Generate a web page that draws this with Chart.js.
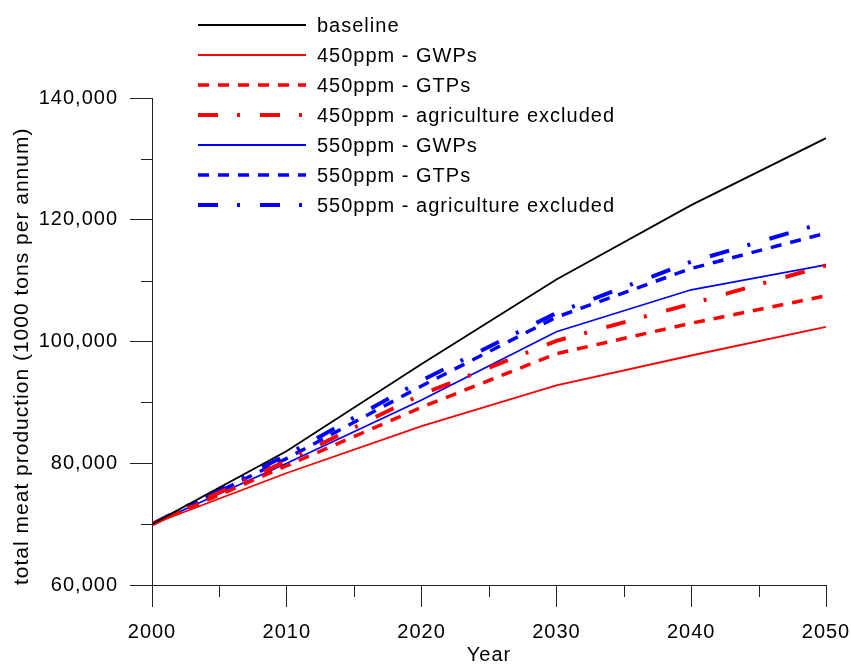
<!DOCTYPE html>
<html>
<head>
<meta charset="utf-8">
<script src="https://cdn.jsdelivr.net/npm/chart.js@4/dist/chart.umd.min.js"></script>
<style>
  html, body { margin: 0; padding: 0; background: #fff; }
  #wrap { width: 851px; height: 664px; }
</style>
</head>
<body>
<div id="wrap"><canvas id="meatChart"></canvas></div>
<script>
// data
const years = [2000, 2010, 2020, 2030, 2040, 2050];
const baseline  = [70000, 82000, 96300, 110200, 122400, 133400];
const ppm450Gwp = [70000, 78400, 86100, 92800, 97700, 102400];
const ppm450Gtp = [70000, 79600, 89200, 98000, 103000, 107500];
const ppm450Agr = [70000, 80400, 91300, 100100, 106200, 112500];
const ppm550Gwp = [70000, 80000, 90400, 101600, 108500, 112600];
const ppm550Gtp = [70000, 80800, 92700, 104000, 112000, 117800];
const ppm550Agr = [70000, 81400, 93600, 104700, 113100, 119600];

const seriesNames = [
  'baseline',
  '450ppm - GWPs',
  '450ppm - GTPs',
  '450ppm - agriculture excluded',
  '550ppm - GWPs',
  '550ppm - GTPs',
  '550ppm - agriculture excluded'
];

const FONT = '"Liberation Sans", Arial, sans-serif';
const AXIS = '#222';
const DASH = [11, 9];
const DASHDOT = [20, 19, 3, 20];

const toPoints = vals => years.map((yr, i) => ({ x: yr, y: vals[i] }));

function line(label, vals, color, width, dash) {
  return {
    label,
    data: toPoints(vals),
    borderColor: color,
    borderWidth: width,
    borderDash: dash,
    borderCapStyle: 'butt',
    pointRadius: 0,
    tension: 0,
    fill: false
  };
}

// canvas state gets reset on resize, so set the spacing again before layout and draw
const spacing = {
  id: 'spacing',
  beforeLayout(chart) { chart.ctx.letterSpacing = '1px'; },
  beforeDraw(chart) { chart.ctx.letterSpacing = '1px'; }
};

// short minor ticks (Chart.js only does one tick length per axis)
const minorTicks = {
  id: 'minorTicks',
  afterDraw(chart) {
    const { ctx, chartArea, scales: { x, y } } = chart;
    ctx.save();
    ctx.strokeStyle = AXIS;
    ctx.lineWidth = 1;
    ctx.beginPath();
    x.ticks.forEach(t => {
      if (t.value % 10 !== 0) {
        const px = Math.round(x.getPixelForValue(t.value)) + 0.5;
        ctx.moveTo(px, chartArea.bottom);
        ctx.lineTo(px, chartArea.bottom + 12);
      }
    });
    y.ticks.forEach(t => {
      if (t.value % 20000 !== 0) {
        const py = Math.round(y.getPixelForValue(t.value)) + 0.5;
        ctx.moveTo(chartArea.left - 11, py);
        ctx.lineTo(chartArea.left, py);
      }
    });
    ctx.stroke();
    ctx.restore();
  }
};

// legend block drawn top left, overlapping the plot like the original
const sideLegend = {
  id: 'sideLegend',
  afterDraw(chart) {
    const ctx = chart.ctx;
    ctx.save();
    ctx.letterSpacing = '1px';
    ctx.font = '20px ' + FONT;
    ctx.textBaseline = 'middle';
    ctx.textAlign = 'left';
    chart.data.datasets.forEach((ds, i) => {
      const yy = 25 + i * 30;
      ctx.beginPath();
      ctx.strokeStyle = ds.borderColor;
      ctx.lineWidth = ds.borderWidth;
      ctx.lineCap = 'butt';
      ctx.setLineDash(ds.borderDash || []);
      ctx.moveTo(198, yy);
      ctx.lineTo(306, yy);
      ctx.stroke();
      ctx.setLineDash([]);
      ctx.fillStyle = '#000';
      ctx.fillText(ds.label, 317, yy + 1);
    });
    ctx.restore();
  }
};

new Chart(document.getElementById('meatChart'), {
  type: 'line',
  data: {
    datasets: [
      line(seriesNames[0], baseline, '#000000', 1.8, []),
      line(seriesNames[1], ppm450Gwp, '#ff0000', 1.8, []),
      line(seriesNames[2], ppm450Gtp, '#ff0000', 3.5, DASH),
      line(seriesNames[3], ppm450Agr, '#ff0000', 4, DASHDOT),
      line(seriesNames[4], ppm550Gwp, '#0000ff', 1.8, []),
      line(seriesNames[5], ppm550Gtp, '#0000ff', 3.5, DASH),
      line(seriesNames[6], ppm550Agr, '#0000ff', 4, DASHDOT)
    ]
  },
  options: {
    responsive: true,
    maintainAspectRatio: false,
    animation: false,
    layout: { padding: { top: 98, right: 25, left: 0, bottom: 0 } },
    plugins: {
      legend: { display: false },
      tooltip: { enabled: false }
    },
    scales: {
      x: {
        type: 'linear',
        min: 2000,
        max: 2050,
        afterFit(scale) {
          scale.height = 79;
          scale.paddingLeft = 0;
          scale.paddingRight = 0;
        },
        border: { display: true, color: AXIS, width: 1 },
        grid: {
          drawOnChartArea: false,
          drawTicks: true,
          tickLength: 22,
          color: c => (c.tick && c.tick.value % 10 === 0) ? AXIS : 'rgba(0,0,0,0)'
        },
        ticks: {
          stepSize: 5,
          autoSkip: false,
          maxRotation: 0,
          padding: 13,
          color: '#000',
          font: { family: FONT, size: 20 },
          callback: v => (v % 10 === 0 ? String(v) : '')
        },
        title: {
          display: true,
          text: 'Year',
          color: '#000',
          font: { family: FONT, size: 20, lineHeight: 1 },
          padding: { top: 0, bottom: -1 }
        }
      },
      y: {
        min: 60000,
        max: 140000,
        afterFit(scale) { scale.width = 152; },
        border: { display: true, color: AXIS, width: 1 },
        grid: {
          drawOnChartArea: false,
          drawTicks: true,
          tickLength: 22,
          color: c => (c.tick && c.tick.value % 20000 === 0) ? AXIS : 'rgba(0,0,0,0)'
        },
        ticks: {
          stepSize: 10000,
          autoSkip: false,
          padding: 12,
          color: '#000',
          font: { family: FONT, size: 20 },
          callback: v => (v % 20000 === 0 ? v.toLocaleString('en-US') : '')
        },
        title: {
          display: true,
          text: 'total meat production (1000 tons per annum)',
          align: 'start',
          color: '#000',
          font: { family: FONT, size: 21, lineHeight: 1.2 },
          padding: { top: 10, bottom: 0 }
        }
      }
    }
  },
  plugins: [spacing, minorTicks, sideLegend]
});
</script>
</body>
</html>
